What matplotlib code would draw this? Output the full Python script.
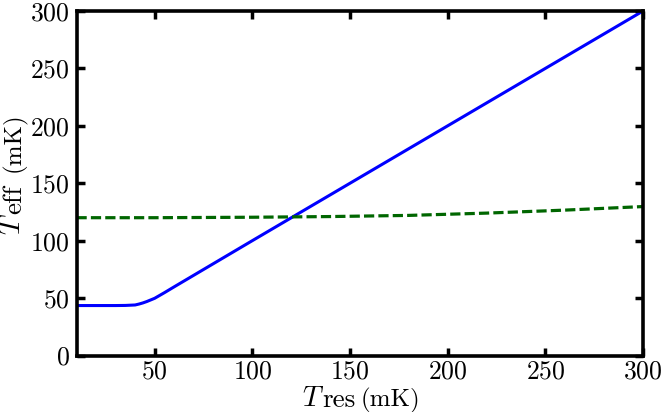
import numpy as np
import matplotlib
matplotlib.use('Agg')
import matplotlib.pyplot as plt

plt.rcParams['font.family'] = 'cmr10'
plt.rcParams['mathtext.fontset'] = 'cm'
plt.rcParams['axes.formatter.use_mathtext'] = True

# blue curve: effective temperature of the resonator mode
t_res_blue = [10, 20, 30, 35, 40, 42, 44, 46, 48, 50, 55, 60, 100, 150, 200, 250, 300]
t_eff_blue = [43.5, 43.5, 43.5, 43.6, 44.0, 44.8, 45.8, 47.0, 48.4, 49.8, 54.7, 59.8,
              100, 150, 200, 250, 300]

# green dashed curve
t_res_green = [10, 50, 100, 140, 180, 220, 260, 300]
t_eff_green = [120, 120, 120.4, 121, 122, 124, 126.6, 129.7]

xticks = [50, 100, 150, 200, 250, 300]
yticks = [0, 50, 100, 150, 200, 250, 300]

W, H = 666, 412
fig = plt.figure(figsize=(W / 100, H / 100), dpi=100)
ax = fig.add_axes([76.5 / W, (H - 355.5) / H, (643 - 76.5) / W, (355.5 - 11) / H])

ax.plot(t_res_blue, t_eff_blue, color='#0000ff', lw=2.2)
ax.plot(t_res_green, t_eff_green, color='#006600', lw=2.3, ls=(0, (3.2, 1.3)))

ax.set_xlim(10, 300)
ax.set_ylim(0, 300)
ax.set_xticks(xticks)
ax.set_yticks(yticks)
ax.tick_params(direction='in', length=6, width=2.5, top=True, right=True,
               labelsize=18.5)
ax.tick_params(axis='x', pad=3)
ax.tick_params(axis='y', pad=5)
for s in ax.spines.values():
    s.set_linewidth(2.6)


# axis labels built from pieces so the subscript is as large as in the original
def px(x, y):
    return x / W, (H - y) / H


kw = dict(transform=fig.transFigure, va='baseline', ha='left', rotation_mode='anchor')
fig.text(*px(302, 406), r'$T$', fontsize=20.5, **kw)
fig.text(*px(322, 407), 'res', fontsize=19.5, **kw)
fig.text(*px(361, 406), '(mK)', fontsize=18, **kw)

fig.text(*px(20, 235), r'$T$', fontsize=20.5, rotation=90, **kw)
fig.text(*px(21, 214), 'eff', fontsize=19.5, rotation=90, **kw)
fig.text(*px(20, 172), '(mK)', fontsize=18, rotation=90, **kw)

fig.savefig('out.png', dpi=100)
